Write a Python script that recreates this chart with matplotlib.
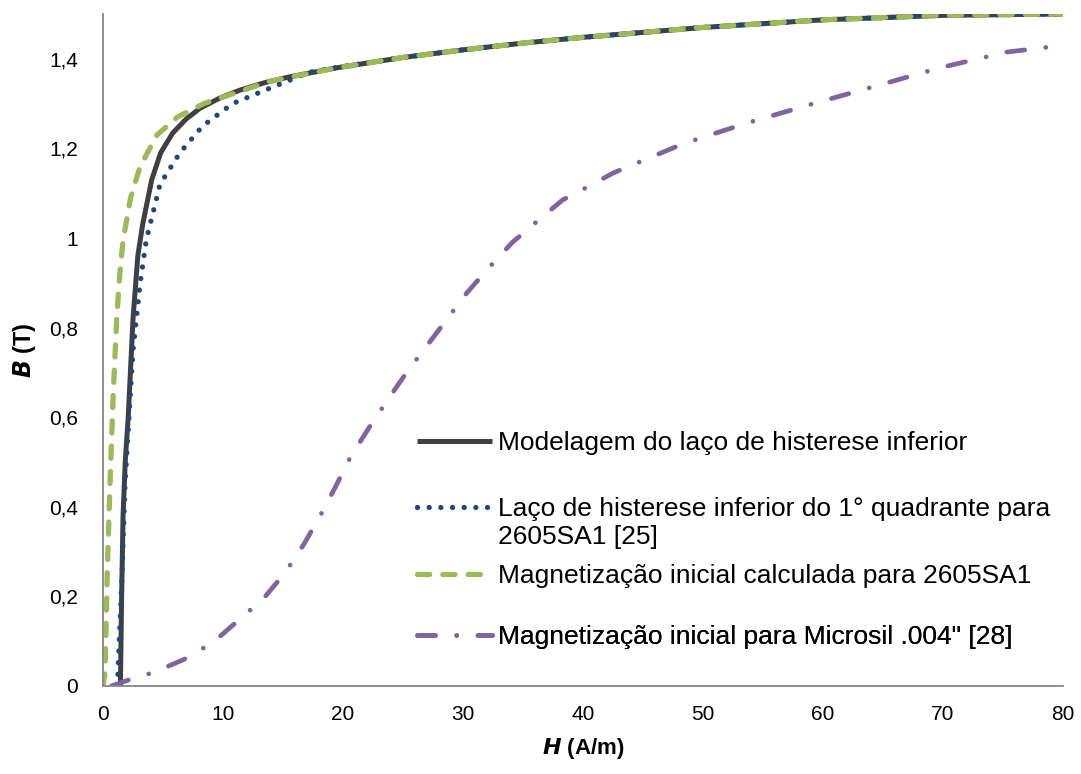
import matplotlib
matplotlib.use("Agg")
import matplotlib.pyplot as plt

# Modelagem do laço de histerese inferior
H_model = [1.45, 1.5, 1.55, 1.67, 1.85, 2.1, 2.5, 2.9, 3.3, 4.06, 4.8, 5.8, 6.9, 8.1, 9.7,
           11.4, 13.5, 15.6, 19.5, 25, 30, 35, 40, 50, 60, 70, 80]
B_model = [0, 0.1, 0.2, 0.38, 0.5, 0.6, 0.82, 0.96, 1.03, 1.13, 1.19, 1.234, 1.265, 1.29, 1.312,
           1.33, 1.347, 1.36, 1.38, 1.403, 1.42, 1.435, 1.448, 1.47, 1.487, 1.497, 1.5]

# Laço de histerese inferior do 1° quadrante para 2605SA1 [25]
H_laco = [1.2, 1.35, 1.56, 1.83, 2.25, 2.5, 3.1, 3.6, 4.75, 6.4, 8.3, 10.8, 13.5, 17.2,
          20, 25, 30, 35, 40, 50, 60, 70, 80]
B_laco = [0, 0.1, 0.23, 0.45, 0.64, 0.75, 0.9, 0.995, 1.12, 1.19, 1.25, 1.30, 1.33, 1.37,
          1.383, 1.403, 1.42, 1.435, 1.448, 1.47, 1.487, 1.497, 1.5]

# Magnetização inicial calculada para 2605SA1
H_calc = [0, 0.17, 0.35, 0.58, 0.85, 1.14, 1.4, 1.67, 2.3, 3.1, 4.5, 6.2, 8.4, 10.6, 13.9,
          19.5, 25, 30, 35, 40, 50, 60, 70, 80]
B_calc = [0, 0.03, 0.25, 0.45, 0.65, 0.82, 0.92, 0.995, 1.09, 1.16, 1.23, 1.27, 1.30, 1.32, 1.35,
          1.38, 1.403, 1.42, 1.435, 1.448, 1.47, 1.487, 1.497, 1.5]

# Magnetização inicial para Microsil .004" [28]
H_micro = [0.7, 2.4, 4.2, 6.8, 9.2, 11.3, 13.4, 15.2, 16.75, 18.1, 19.4, 20.6, 22.2, 23.7,
           25.3, 27, 28.7, 30.3, 32.2, 34.1, 36.2, 38.3, 40.8, 42.5, 48.3, 53.7, 59.2, 64.5,
           69.75, 75.3, 80]
B_micro = [0, 0.016, 0.03, 0.06, 0.098, 0.147, 0.196, 0.254, 0.317, 0.38, 0.446, 0.51, 0.578,
           0.638, 0.70, 0.76, 0.82, 0.877, 0.935, 0.99, 1.038, 1.085, 1.12, 1.145, 1.21, 1.257,
           1.30, 1.34, 1.38, 1.415, 1.43]

labels = ['Modelagem do laço de histerese inferior',
          'Laço de histerese inferior do 1° quadrante para',
          'Magnetização inicial calculada para 2605SA1',
          'Magnetização inicial para Microsil .004" [28]']
label2_line2 = '2605SA1 [25]'

x_ticks = [0, 10, 20, 30, 40, 50, 60, 70, 80]
y_ticks = [0, 0.2, 0.4, 0.6, 0.8, 1.0, 1.2, 1.4]
y_ticklabels = ['0', '0,2', '0,4', '0,6', '0,8', '1', '1,2', '1,4']

fig = plt.figure(figsize=(10.81, 7.74), dpi=100)
ax = fig.add_axes([0.0953, 0.1137, 0.8881, 0.8682])

l1, = ax.plot(H_model, B_model, color='#404040', lw=3.6, solid_capstyle='butt')
l2, = ax.plot(H_laco, B_laco, color='#1F497D', lw=3.8, dash_capstyle='round')
l2.set_dashes([0.01, 2.2])
l3, = ax.plot(H_calc, B_calc, color='#9BBB59', lw=3.8, dash_capstyle='round')
l3.set_dashes([2.3, 2.5])
l4, = ax.plot(H_micro, B_micro, color='#8064A2', lw=3.4, dash_capstyle='round')
l4.set_dashes([3.8, 4.5, 0.01, 4.5])

ax.set_xlim(0, 80)
ax.set_ylim(0, 1.5)
ax.set_xticks(x_ticks)
ax.set_yticks(y_ticks)
ax.set_yticklabels(y_ticklabels, family='Liberation Sans', fontsize=15)
ax.set_xticklabels([str(t) for t in x_ticks], family='Liberation Sans', fontsize=15)
ax.tick_params(axis='both', length=0, colors='black')
ax.tick_params(axis='y', pad=18)
ax.tick_params(axis='x', pad=14)

for s in ['top', 'right']:
    ax.spines[s].set_visible(False)
for s in ['left', 'bottom']:
    ax.spines[s].set_color('#868686')
    ax.spines[s].set_linewidth(1.3)

ax.set_xlabel(r'$\mathbfit{H}$ (A/m)', fontsize=16, fontweight='bold',
              family='Liberation Sans', labelpad=8)
ax.set_ylabel(r'$\mathbfit{B}$ (T)', fontsize=17, fontweight='bold', family='Liberation Sans',
              labelpad=8)

# legend: one entry per legend so the rows sit where the original has them
leg_x = 0.327
leg_y = [0.3616, 0.2634, 0.1637, 0.0729]
for line, lab, y in zip([l1, l2, l3, l4], labels, leg_y):
    lg = ax.legend([line], [lab], loc='center left', bbox_to_anchor=(leg_x, y),
                   frameon=False, handlelength=2.85, handletextpad=0.23, borderpad=0,
                   borderaxespad=0, prop={'family': 'Liberation Sans', 'size': 19})
    ax.add_artist(lg)
ax.text(0.4115, 0.2217, label2_line2, transform=ax.transAxes, va='center', ha='left',
        family='Liberation Sans', fontsize=19)

fig.savefig('out.png', dpi=100)
